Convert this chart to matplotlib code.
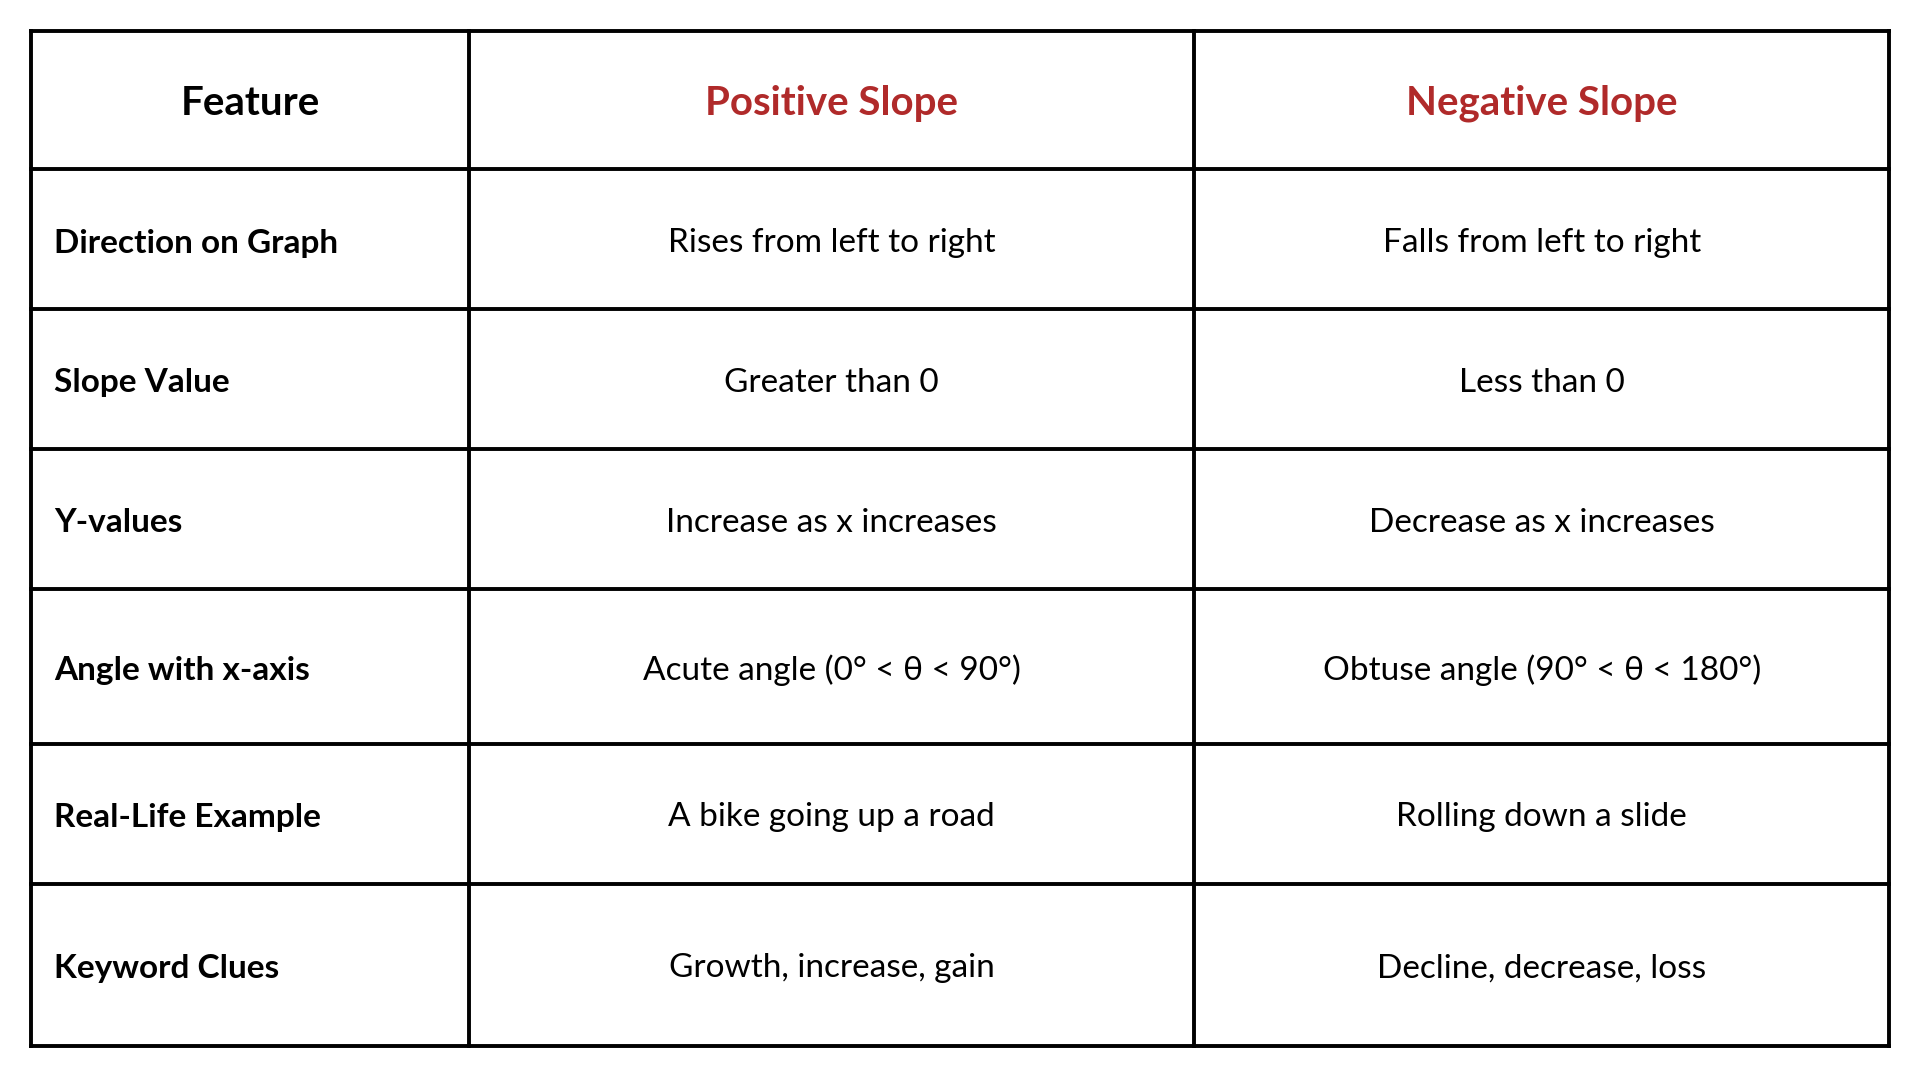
import matplotlib
matplotlib.use("Agg")
import matplotlib.pyplot as plt

headers = ["Feature", "Positive Slope", "Negative Slope"]
features = ["Direction on Graph", "Slope Value", "Y-values", "Angle with x-axis",
            "Real-Life Example", "Keyword Clues"]
positive = ["Rises from left to right", "Greater than 0", "Increase as x increases",
            "Acute angle (0° < θ < 90°)", "A bike going up a road", "Growth, increase, gain"]
negative = ["Falls from left to right", "Less than 0", "Decrease as x increases",
            "Obtuse angle (90° < θ < 180°)", "Rolling down a slide", "Decline, decrease, loss"]

col_edges = [25, 382, 972, 1538]
row_edges = [25, 138, 252, 366, 480, 606, 720, 852]
RED = "#b02a2a"
FONT = "Lato"

fig = plt.figure(figsize=(19.2, 10.8), dpi=100)
ax = fig.add_axes([0, 0, 1, 1])
ax.set_xlim(0, 1563)
ax.set_ylim(880, 0)
ax.axis("off")

for x in col_edges:
    ax.plot([x, x], [row_edges[0], row_edges[-1]], color="black", lw=2.8, solid_capstyle="projecting")
for y in row_edges:
    ax.plot([col_edges[0], col_edges[-1]], [y, y], color="black", lw=2.8, solid_capstyle="projecting")

def cy(i):
    return (row_edges[i] + row_edges[i + 1]) / 2 + 3

colors = ["black", RED, RED]
for j, h in enumerate(headers):
    ax.text((col_edges[j] + col_edges[j + 1]) / 2, cy(0), h, ha="center", va="center",
            fontsize=29, fontweight="bold", color=colors[j], family=FONT)

for i in range(len(features)):
    y = cy(i + 1)
    ax.text(col_edges[0] + 19, y, features[i], ha="left", va="center",
            fontsize=24, fontweight="bold", family=FONT)
    ax.text((col_edges[1] + col_edges[2]) / 2, y, positive[i], ha="center", va="center",
            fontsize=24, family=FONT)
    ax.text((col_edges[2] + col_edges[3]) / 2, y, negative[i], ha="center", va="center",
            fontsize=24, family=FONT)

fig.savefig("out.png", dpi=100, facecolor="white")
